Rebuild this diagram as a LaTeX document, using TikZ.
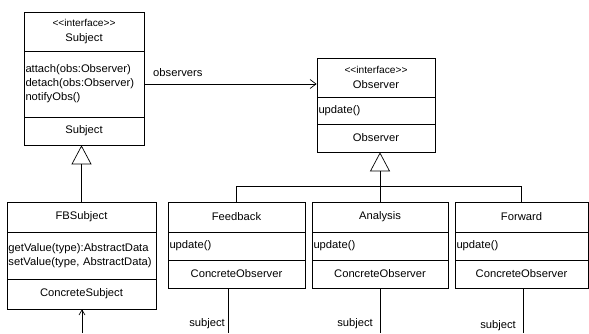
\documentclass[tikz,border=0pt]{standalone}
\usepackage{fontspec}
\setmainfont{Liberation Sans}[FakeStretch=1.02]
\usetikzlibrary{arrows.meta}
\newcommand{\stereo}{{\fontsize{10}{12}\selectfont <\kern0pt<interface>\kern0pt>}}
\tikzset{
  comp/.style={draw, line width=0.7pt, inner sep=0pt, align=center,
    font=\fontsize{11}{14.5}\selectfont},
  ops/.style={draw, line width=0.7pt, inner ysep=0pt, inner xsep=1.5pt, align=left,
    font=\fontsize{11}{14}\selectfont},
  conn/.style={line width=0.7pt},
  assoc/.style={conn, -{Straight Barb[length=6pt,width=9pt,line width=0.7pt]}},
  back/.style={conn, -{Straight Barb[length=5pt,width=6pt,line width=0.7pt]}},
  gen/.style={conn, -{Triangle[open,length=19pt,width=20pt,line width=0.7pt]}},
  lbl/.style={inner sep=0pt, font=\fontsize{11}{13}\selectfont}
}
\begin{document}
\begin{tikzpicture}[x=1pt,y=-1pt]
\useasboundingbox (0,0) rectangle (589,333);
% Subject
\node[comp, minimum width=120pt, minimum height=39pt] (sH) at (84,31.5) {\stereo\\Subject};
\node[ops, text width=117pt, minimum height=66pt] (sO) at (84,84) {\mbox{attach(obs:Observer)}\\\mbox{detach(obs:Observer)}\\\mbox{notifyObs()}};
\node[comp, minimum width=120pt, minimum height=28pt] (sN) at (84,131) {Subject};
% Observer
\node[comp, minimum width=118pt, minimum height=39pt] (oH) at (376,77.5) {\stereo\\Observer};
\node[ops, text width=115pt, minimum height=27pt] (oO) at (376,110.5) {update()};
\node[comp, minimum width=118pt, minimum height=28pt] (oN) at (376,138) {Observer};
% FBSubject
\node[comp, minimum width=149pt, minimum height=30pt] (fH) at (81.5,217) {FBSubject};
\node[ops, text width=146pt, minimum height=47pt] (fO) at (81.5,255.5) {\mbox{getValue(type):AbstractData}\\\mbox{setValue(type, AbstractData)}};
\node[comp, minimum width=149pt, minimum height=30pt] (fN) at (81.5,294) {ConcreteSubject};
% Feedback
\node[comp, minimum width=137pt, minimum height=30pt] (dH) at (236.5,217) {Feedback};
\node[ops, text width=134pt, minimum height=28pt] (dO) at (236.5,246) {update()};
\node[comp, minimum width=137pt, minimum height=28pt] (dN) at (236.5,274) {ConcreteObserver};
% Analysis
\node[comp, minimum width=136pt, minimum height=30pt] (aH) at (380,217) {Analysis};
\node[ops, text width=133pt, minimum height=28pt] (aO) at (380,246) {update()};
\node[comp, minimum width=136pt, minimum height=28pt] (aN) at (380,274) {ConcreteObserver};
% Forward
\node[comp, minimum width=133pt, minimum height=30pt] (wH) at (521.5,217) {Forward};
\node[ops, text width=130pt, minimum height=28pt] (wO) at (521.5,246) {update()};
\node[comp, minimum width=133pt, minimum height=28pt] (wN) at (521.5,274) {ConcreteObserver};
% connectors
\draw[assoc] (sO.east) -- (sO.east -| oH.west);
\node[lbl, anchor=base west] (obsLbl) at (153,76) {observers};
\draw[gen] (fH.north) -- (fH.north |- sN.south);
\draw[gen] (aH.north) -- (aH.north |- oN.south);
\draw[conn] (dH.north) -- ++(0,-15) -| (wH.north);
% free ends at the bottom
\coordinate (fsEnd) at (82,333);
\coordinate (dEnd) at (228,333);
\coordinate (aEnd) at (380,333);
\coordinate (wEnd) at (523,333);
\draw[back] (fsEnd) -- (fsEnd |- fN.south);
\draw[conn] (dEnd |- dN.south) -- (dEnd);
\draw[conn] (aEnd |- aN.south) -- (aEnd);
\draw[conn] (wEnd |- wN.south) -- (wEnd);
\node[lbl, anchor=base east] (s1) at (225,326) {subject};
\node[lbl, anchor=base east] (s2) at (373,326) {subject};
\node[lbl, anchor=base east] (s3) at (516,328) {subject};
\end{tikzpicture}
\end{document}
